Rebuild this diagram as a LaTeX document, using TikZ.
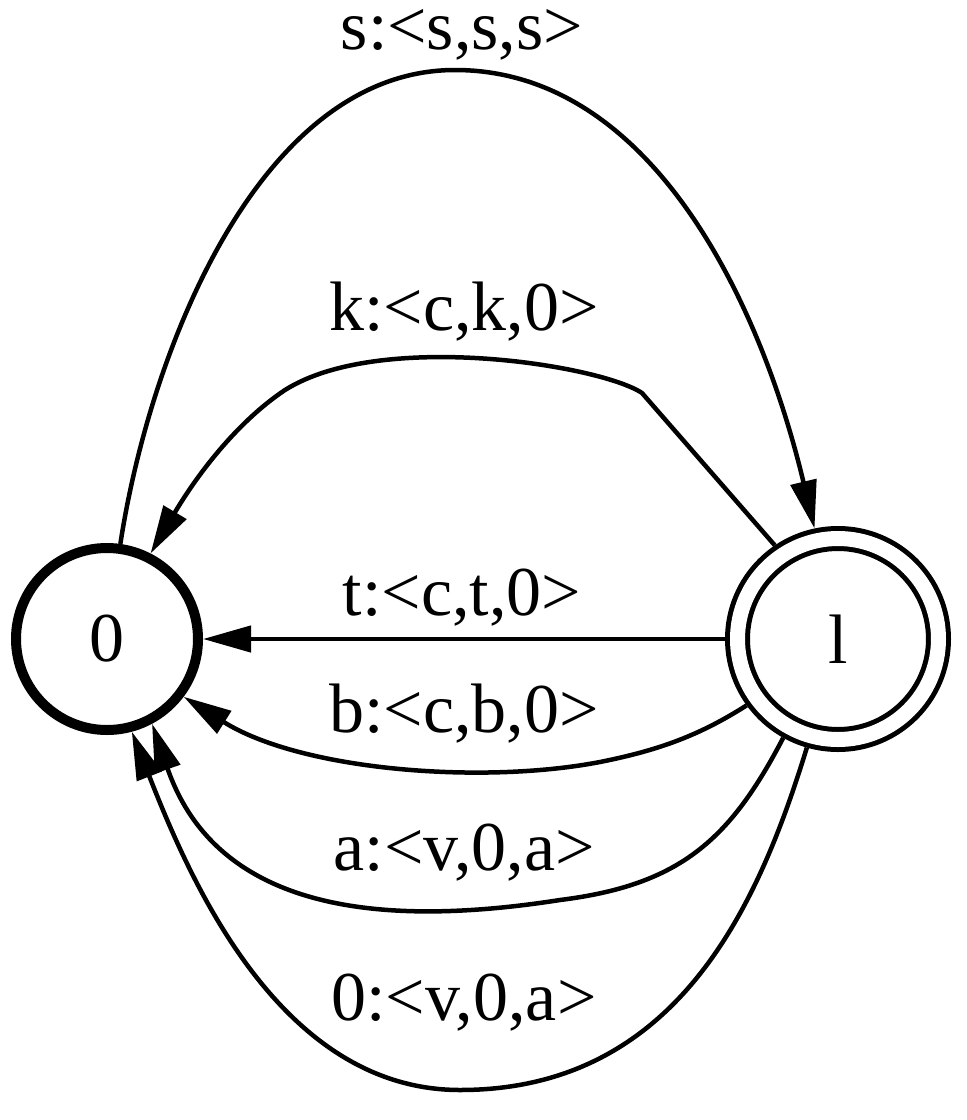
\documentclass[tikz,border=0pt]{standalone}
\usepackage{fontspec}
\setmainfont{Liberation Serif}
\usetikzlibrary{arrows.meta}
\begin{document}
\begin{tikzpicture}[x=1pt,y=-1pt,
  edge/.style={line width=4.5pt, -{Triangle[length=48pt,width=26pt]}},
  lbl/.style={font=\fontsize{70}{72}\selectfont, anchor=base, inner sep=0pt},
  st0/.style={circle, draw, line width=10pt, minimum size=182pt, inner sep=0pt, outer sep=5pt, font=\fontsize{70}{72}\selectfont},
  st1/.style={circle, draw, line width=5pt, double=white, double distance=15pt, minimum size=201pt, inner sep=0pt, outer sep=12.5pt, font=\fontsize{70}{72}\selectfont}]
\useasboundingbox (0,0) rectangle (967,1120);
\node[st0] (n0) at (107,639) {0};
\node[st1] (n1) at (838,639) {l};
\node[lbl] (ls) at (462,49) {s:<s,s,s>};
\node[lbl] (lk) at (464,330) {k:<c,k,0>};
\node[lbl] (lt) at (462,615) {t:<c,t,0>};
\node[lbl] (lb) at (464,732) {b:<c,b,0>};
\node[lbl] (la) at (464,870) {a:<v,0,a>};
\node[lbl] (l0) at (464,1020) {0:<v,0,a>};
\draw[edge] (n0.82) .. controls (150,350) and (260,70) .. (455,70) .. controls (650,70) and (760,300) .. (n1.102.5);
\draw[edge] (n1.124) -- (642,393) .. controls (600,365) and (380,330) .. (285,390) .. controls (240,420) and (200,470) .. (n0.63);
\draw[edge] (n1.180) -- (n0.0);
\draw[edge] (n1.216) .. controls (700,735) and (660,750) .. (600,762) .. controls (480,785) and (300,770) .. (n0.-37.6);
\draw[edge] (n1.241) .. controls (730,840) and (680,885) .. (560,900) .. controls (400,925) and (220,920) .. (n0.-62);
\draw[edge] (n1.254) .. controls (760,900) and (680,1090) .. (460,1090) .. controls (280,1090) and (190,880) .. (n0.-75);
\end{tikzpicture}
\end{document}
